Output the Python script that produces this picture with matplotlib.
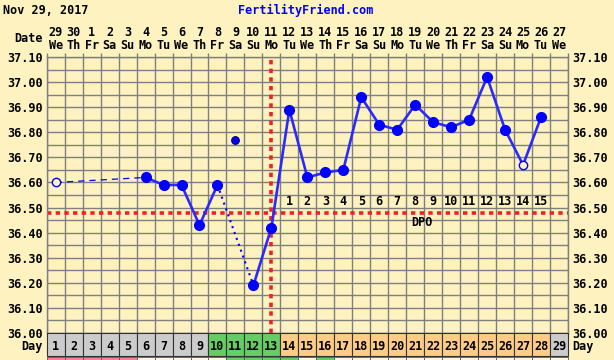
import numpy as np
import matplotlib.pyplot as plt
import matplotlib.transforms as mtransforms
from matplotlib.patches import Rectangle

nan = np.nan

# chart data
days = np.arange(1, 30)
dates = [29, 30] + list(range(1, 28))
weekdays = ["We", "Th", "Fr", "Sa", "Su", "Mo", "Tu"] * 5
temps = [36.60, nan, nan, nan, nan, 36.62, 36.59, 36.59, 36.43, 36.59,
         36.77, 36.19, 36.42, 36.89, 36.62, 36.64, 36.65, 36.94, 36.83, 36.81,
         36.91, 36.84, 36.82, 36.85, 37.02, 36.81, 36.67, 36.86, nan]
open_days = [1, 27]
discarded_days = [11]
solid_runs = [(6, 10), (12, 28)]
dashed_links = [(1, 6)]
dotted_links = [(10, 12)]
coverline = 36.48
ovulation_day = 13
dpo_days = list(range(14, 29))
day_colors = ["#cccccc"] * 9 + ["#66cc66"] * 4 + ["#ffcc88"] * 15 + ["#cccccc"]
strip_colors = (["#ff8090"] * 5 + ["#fff8e0"] * 5 + ["#66cc66"] * 4 +
                ["#fff8e0", "#66cc66"] + ["#fff8e0"] * 13)

bg = "#fdf2c0"
grid_c = "#7f7f7f"
blue = "#0000ff"
line_blue = "#2a2aff"
red = "#ee2222"
mono = "DejaVu Sans Mono"
fs = 8.5

fig = plt.figure(figsize=(6.14, 3.6), dpi=100, facecolor=bg)
ax = fig.add_axes([46.7 / 614, 27 / 360, 521.3 / 614, 276 / 360])
ax.set_facecolor(bg)
ax.set_xlim(0.5, 29.5)
ax.set_ylim(36.0, 37.1)

# grid
ax.set_xticks(np.arange(0.5, 30, 1))
ax.set_yticks(np.arange(36.0, 37.11, 0.05), minor=True)
ax.set_yticks(np.arange(36.0, 37.11, 0.1))
ax.set_yticklabels(["%.2f" % v for v in np.arange(36.0, 37.11, 0.1)],
                   fontfamily=mono, fontweight="bold", fontsize=fs)
ax.grid(True, which="both", color=grid_c, lw=1.0)
ax.tick_params(axis="x", top=True, bottom=False, labelbottom=False,
               length=3, color=grid_c, width=1.0)
ax.tick_params(axis="y", which="both", length=0, labelright=True,
               pad=3)
for s in ax.spines.values():
    s.set_color(grid_c)
    s.set_linewidth(1.0)
ax.set_axisbelow(True)

t = np.array(temps)

# connecting lines
for a, b in solid_runs:
    m = (days >= a) & (days <= b)
    ax.plot(days[m], t[m], color=line_blue, lw=1.9, zorder=3)
for a, b in dashed_links:
    ax.plot([a, b], [t[a - 1], t[b - 1]], color=blue, lw=0.9,
            ls=(0, (5, 4)), zorder=3)
for a, b in dotted_links:
    ax.plot([a, b], [t[a - 1], t[b - 1]], color=blue, lw=1.5,
            ls=(0, (1, 2)), zorder=3)

# markers
for d, v in zip(days, t):
    if np.isnan(v):
        continue
    if d in open_days:
        ax.plot(d, v, "o", ms=6, mfc=bg, mec=blue, mew=1.0, zorder=4)
    elif d in discarded_days:
        ax.plot(d, v, "o", ms=5.5, mfc=blue, mec="#000066", mew=0.8, zorder=4)
    else:
        ax.plot(d, v, "o", ms=7, mfc=blue, mec=blue, zorder=4)

# coverline and ovulation line
ax.axhline(coverline, color=red, lw=2.6, ls=(0, (1.2, 1.2)), zorder=2)
ax.axvline(ovulation_day, color=red, lw=2.6, ls=(0, (1.2, 1.2)), zorder=2)

for i, d in enumerate(dpo_days):
    ax.text(d, 36.525, str(i + 1), ha="center", va="center",
            fontfamily=mono, fontweight="bold", fontsize=fs, zorder=3)
ax.text(21.4, 36.44, "DPO", ha="center", va="center",
        fontfamily=mono, fontweight="bold", fontsize=fs, zorder=3)

# header and footer rows
trans = mtransforms.blended_transform_factory(ax.transData, ax.transAxes)
for d, dt, wd in zip(days, dates, weekdays):
    ax.text(d, 1.087, str(dt), transform=trans, ha="center", va="center",
            fontfamily=mono, fontweight="bold", fontsize=fs, clip_on=False)
    ax.text(d, 1.043, wd, transform=trans, ha="center", va="center",
            fontfamily=mono, fontweight="bold", fontsize=fs, clip_on=False)

row_h = 23 / 276
for d, c, sc in zip(days, day_colors, strip_colors):
    ax.add_patch(Rectangle((d - 0.5, -row_h), 1, row_h, transform=trans,
                           facecolor=c, edgecolor="#333333", lw=0.8,
                           clip_on=False, zorder=5))
    ax.text(d, -13.5 / 276, str(d), transform=trans, ha="center",
            va="center", fontfamily=mono, fontweight="bold", fontsize=fs,
            clip_on=False, zorder=6)
    ax.add_patch(Rectangle((d - 0.5, -0.12), 1, 0.12 - row_h - 0.7 / 276,
                           transform=trans, facecolor=sc,
                           edgecolor="#555555", lw=0.6, clip_on=False,
                           zorder=5))

fig.text(43 / 614, 1 - 39 / 360, "Date", ha="right", va="center",
         fontfamily=mono, fontweight="bold", fontsize=fs)
fig.text(43 / 614, 1 - 346.5 / 360, "Day", ha="right", va="center",
         fontfamily=mono, fontweight="bold", fontsize=fs)
fig.text(572 / 614, 1 - 346.5 / 360, "Day", ha="left", va="center",
         fontfamily=mono, fontweight="bold", fontsize=fs)
fig.text(3 / 614, 1 - 10 / 360, "Nov 29, 2017", ha="left", va="center",
         fontfamily=mono, fontweight="bold", fontsize=fs)
fig.text(306 / 614, 1 - 10 / 360, "FertilityFriend.com", ha="center",
         va="center", fontfamily=mono, fontweight="bold", fontsize=fs,
         color=blue)

fig.savefig("out.png", dpi=100, facecolor=bg)
